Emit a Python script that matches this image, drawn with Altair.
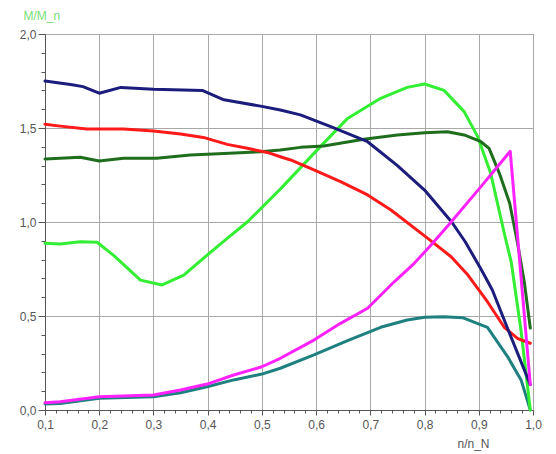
import altair as alt
import pandas as pd

# ---- data ----
navy_x = [0.10, 0.15, 0.17, 0.20, 0.24, 0.30, 0.39, 0.43, 0.50, 0.534, 0.571, 0.627, 0.695,
          0.75, 0.80, 0.85, 0.875, 0.905, 0.925, 0.955, 0.995]
navy_y = [1.75, 1.73, 1.72, 1.685, 1.716, 1.706, 1.70, 1.65, 1.615, 1.596, 1.57, 1.507, 1.427,
          1.30, 1.17, 1.00, 0.895, 0.745, 0.638, 0.42, 0.135]

red_x = [0.10, 0.128, 0.177, 0.245, 0.30, 0.35, 0.392, 0.436, 0.473, 0.51, 0.534, 0.553, 0.596,
         0.645, 0.695, 0.738, 0.806, 0.849, 0.88, 0.916, 0.947, 0.972, 0.995]
red_y = [1.52, 1.51, 1.495, 1.495, 1.484, 1.468, 1.45, 1.413, 1.392, 1.37, 1.347, 1.33, 1.277,
         1.215, 1.144, 1.064, 0.913, 0.815, 0.718, 0.576, 0.44, 0.38, 0.355]

dkgreen_x = [0.10, 0.165, 0.20, 0.245, 0.306, 0.368, 0.43, 0.497, 0.534, 0.571, 0.614, 0.688,
             0.75, 0.80, 0.842, 0.873, 0.904, 0.919, 0.938, 0.957, 0.972, 0.984, 0.995]
dkgreen_y = [1.335, 1.344, 1.324, 1.339, 1.339, 1.356, 1.365, 1.374, 1.383, 1.397, 1.404, 1.44,
             1.463, 1.475, 1.48, 1.463, 1.427, 1.392, 1.259, 1.10, 0.88, 0.68, 0.436]

ltgreen_x = [0.10, 0.128, 0.165, 0.196, 0.226, 0.276, 0.316, 0.356, 0.399, 0.436, 0.473, 0.534,
             0.596, 0.658, 0.719, 0.768, 0.80, 0.836, 0.873, 0.898, 0.922, 0.947, 0.96, 0.978, 0.995]
ltgreen_y = [0.887, 0.883, 0.895, 0.892, 0.824, 0.691, 0.665, 0.718, 0.824, 0.913, 1.0, 1.175,
             1.365, 1.551, 1.658, 1.716, 1.734, 1.70, 1.587, 1.454, 1.259, 0.94, 0.785, 0.42, 0.0]

magenta_x = [0.10, 0.128, 0.20, 0.30, 0.35, 0.399, 0.448, 0.50, 0.534, 0.596, 0.645, 0.695,
             0.744, 0.781, 0.812, 0.849, 0.904, 0.958, 0.995]
magenta_y = [0.039, 0.044, 0.071, 0.08, 0.106, 0.138, 0.186, 0.23, 0.275, 0.372, 0.461, 0.541,
             0.682, 0.78, 0.878, 1.0, 1.188, 1.376, 0.135]

teal_x = [0.10, 0.128, 0.20, 0.30, 0.35, 0.399, 0.448, 0.50, 0.534, 0.596, 0.658, 0.719, 0.768,
          0.80, 0.836, 0.87, 0.916, 0.953, 0.978, 0.995]
teal_y = [0.032, 0.035, 0.062, 0.071, 0.092, 0.124, 0.16, 0.191, 0.222, 0.293, 0.369, 0.44, 0.479,
          0.493, 0.496, 0.491, 0.44, 0.284, 0.16, 0.0]

series_names = ["teal", "ltgreen", "dkgreen", "red", "navy", "magenta"]
series_colors = ["#1f8080", "#33ee33", "#1e6e1e", "#ff1a1a", "#1c1c7c", "#ff22ff"]
series_data = [(teal_x, teal_y), (ltgreen_x, ltgreen_y), (dkgreen_x, dkgreen_y),
               (red_x, red_y), (navy_x, navy_y), (magenta_x, magenta_y)]

x_ticks = [round(0.1 + 0.02 * i, 2) for i in range(46)]
y_ticks = [round(0.1 * i, 1) for i in range(21)]

rows = []
for name, (xs, ys) in zip(series_names, series_data):
    for i, (xv, yv) in enumerate(zip(xs, ys)):
        rows.append({"series": name, "x": xv, "y": yv, "i": i})
df = pd.DataFrame(rows)

x_major = "abs(datum.value*10 - round(datum.value*10)) < 0.001"
y_major = "abs(datum.value*2 - round(datum.value*2)) < 0.001"

x_axis = alt.Axis(
    values=x_ticks,
    labelExpr=f"({x_major}) ? replace(format(datum.value, '.1f'), '.', ',') : ''",
    tickSize={"condition": {"test": x_major, "value": 5}, "value": 3},
    gridOpacity={"condition": {"test": x_major, "value": 1}, "value": 0},
    labelOverlap=False, labelFlush=False,
    labelPadding=4,
    title="n/n_N", titleX=428, titleY=33, titleBaseline="middle", titleAlign="center",
    titleColor="#555555", titleFontWeight="normal", titleFontSize=12,
)
y_axis = alt.Axis(
    values=y_ticks,
    labelExpr=f"({y_major}) ? replace(format(datum.value, '.1f'), '.', ',') : ''",
    tickSize={"condition": {"test": y_major, "value": 7}, "value": 4},
    gridOpacity={"condition": {"test": y_major, "value": 1}, "value": 0},
    labelOverlap=False, labelFlush=False,
    labelPadding=2,
    title="M/M_n", titleAngle=0, titleX=-22, titleY=-19, titleAlign="left",
    titleBaseline="middle", titleColor="#77e077", titleFontWeight="normal", titleFontSize=12,
)

chart = alt.Chart(df).mark_line(strokeWidth=3, strokeJoin="round", strokeCap="round").encode(
    x=alt.X("x:Q", scale=alt.Scale(domain=[0.1, 1.0], nice=False, zero=False), axis=x_axis),
    y=alt.Y("y:Q", scale=alt.Scale(domain=[0, 2.0], nice=False), axis=y_axis),
    color=alt.Color("series:N", scale=alt.Scale(domain=series_names, range=series_colors), legend=None),
    order="i:Q",
).properties(
    width=488, height=376,
    autosize=alt.AutoSizeParams(type="none"),
    padding={"left": 37, "top": 26, "right": 15, "bottom": 44},
).configure_view(
    stroke="#555555", strokeWidth=1
).configure_axis(
    labelFont="Liberation Sans", titleFont="Liberation Sans", labelFontSize=12,
    labelColor="#555555", domainColor="#555555", tickColor="#555555",
    gridColor="#a8a8a8", gridWidth=1,
)

chart.save("out.html", embed_options={"renderer": "svg", "actions": False})
